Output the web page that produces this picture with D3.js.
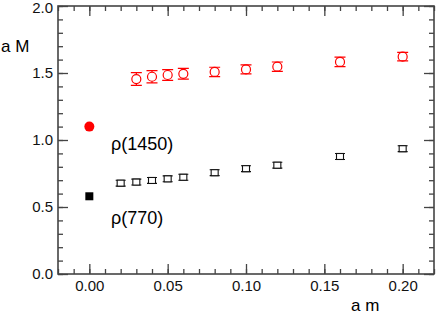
<!DOCTYPE html>
<html>
<head>
<meta charset="utf-8">
<script src="https://cdn.jsdelivr.net/npm/d3@7"></script>
<style>
  body { margin: 0; background: #fff; }
  text { font-family: "Liberation Sans", Arial, sans-serif; }
</style>
</head>
<body>
<svg id="chart"></svg>
<script>
// lattice data: a m vs a M
const amVals      = [0.03, 0.04, 0.05, 0.06, 0.08, 0.10, 0.12, 0.16, 0.20];
const rhoHeavy    = [1.455, 1.472, 1.485, 1.494, 1.508, 1.527, 1.547, 1.583, 1.622];
const rhoHeavyErr = [0.048, 0.045, 0.040, 0.040, 0.035, 0.033, 0.035, 0.035, 0.032];
const amValsB     = [0.02, 0.03, 0.04, 0.05, 0.06, 0.08, 0.10, 0.12, 0.16, 0.20];
const rhoLight    = [0.678, 0.686, 0.698, 0.710, 0.722, 0.756, 0.786, 0.812, 0.877, 0.935];
const rhoLightErr = [0.022, 0.022, 0.022, 0.022, 0.022, 0.022, 0.022, 0.022, 0.022, 0.022];
const physNames   = ["ρ(1450)", "ρ(770)"];
const physVals    = [1.10, 0.58];
const xMajor      = [0.00, 0.05, 0.10, 0.15, 0.20];
const yMajor      = [0.0, 0.5, 1.0, 1.5, 2.0];

let width   = 436,
    height  = 314,
    pLeft   = 58,
    pRight  = 434,
    pTop    = 6,
    pBottom = 274,
    xScale  = d3.scaleLinear().domain([-0.02, 0.22]).range([pLeft, pRight]),
    yScale  = d3.scaleLinear().domain([0, 2]).range([pBottom, pTop]),
    svg     = d3.select('#chart').attr('width', width).attr('height', height),
    axisColor = '#444';

let xMinor = d3.range(-0.02, 0.2201, 0.01).map(v => +v.toFixed(2)),
    yMinor = d3.range(0, 2.001, 0.1).map(v => +v.toFixed(1));

function drawAxis(axisFn, scale, major, minor, transform, labels, pad) {
    let g = svg.append('g').attr('transform', transform);
    g.call(axisFn(scale).tickValues(minor).tickSize(-5).tickFormat(''));
    let g2 = svg.append('g').attr('transform', transform);
    g2.call(axisFn(scale).tickValues(major).tickSize(-10).tickPadding(pad || 0)
        .tickFormat(labels ? labels : ''));
    [g, g2].forEach(a => {
        a.select('.domain').remove();
        a.selectAll('line').attr('stroke', axisColor).attr('stroke-width', 1.3);
        a.selectAll('text').attr('font-size', 15).attr('fill', '#111')
            .style('font-family', '"Liberation Sans", Arial, sans-serif');
    });
    return g2;
}

drawAxis(d3.axisBottom, xScale, xMajor, xMinor, `translate(0,${pBottom})`, d3.format('.2f'), 6);
drawAxis(d3.axisTop, xScale, xMajor, xMinor, `translate(0,${pTop})`, null);
drawAxis(d3.axisLeft, yScale, yMajor, yMinor, `translate(${pLeft},0)`, d3.format('.1f'), 5)
    .selectAll('text').filter(d => d == 2).attr('dy', '0.38em').attr('y', 1);
drawAxis(d3.axisRight, yScale, yMajor, yMinor, `translate(${pRight},0)`, null);

// frame
svg.append('rect')
    .attr('x', pLeft).attr('y', pTop)
    .attr('width', pRight - pLeft).attr('height', pBottom - pTop)
    .attr('fill', 'none').attr('stroke', axisColor).attr('stroke-width', 1.6);

// axis titles
svg.append('text').attr('x', 1).attr('y', 52).attr('font-size', 17).text('a M');
svg.append('text').attr('x', 351).attr('y', 311).attr('font-size', 17).text('a m');

// heavy rho: open red circles with error bars
let heavy = amVals.map((d, i) => ({x: d, y: rhoHeavy[i], e: rhoHeavyErr[i]}));
let hg = svg.append('g').attr('stroke', '#f00').attr('fill', 'none').attr('stroke-width', 1.2);
hg.selectAll('.ebar').data(heavy).enter().append('path')
    .attr('d', d => {
        let x = xScale(d.x), y1 = yScale(d.y - d.e), y2 = yScale(d.y + d.e);
        return `M${x},${y1}V${yScale(d.y) + 4.5}M${x},${yScale(d.y) - 4.5}V${y2}` +
               `M${x - 5.5},${y1}H${x + 5.5}M${x - 5.5},${y2}H${x + 5.5}`;
    });
hg.selectAll('circle').data(heavy).enter().append('circle')
    .attr('cx', d => xScale(d.x)).attr('cy', d => yScale(d.y)).attr('r', 4.5);

// light rho: open black squares with error bars
let light = amValsB.map((d, i) => ({x: d, y: rhoLight[i], e: rhoLightErr[i]}));
let lg = svg.append('g').attr('stroke', '#111').attr('fill', 'none').attr('stroke-width', 1.1);
lg.selectAll('.ebar').data(light).enter().append('path')
    .attr('d', d => {
        let x = xScale(d.x), y1 = yScale(d.y - d.e), y2 = yScale(d.y + d.e);
        return `M${x - 5},${y1}H${x + 5}M${x - 5},${y2}H${x + 5}`;
    });
lg.selectAll('rect').data(light).enter().append('rect')
    .attr('x', d => xScale(d.x) - 3.5).attr('y', d => yScale(d.y) - 3)
    .attr('width', 7).attr('height', 6).attr('fill', '#fff');

// physical values at a m = 0
svg.append('circle').attr('cx', xScale(0)).attr('cy', yScale(physVals[0])).attr('r', 5).attr('fill', '#f00');
svg.append('rect').attr('x', xScale(0) - 4).attr('y', yScale(physVals[1]) - 4)
    .attr('width', 8).attr('height', 8).attr('fill', '#000');

svg.selectAll('.plabel').data(physNames).enter().append('text')
    .attr('x', 111)
    .attr('y', (d, i) => i == 0 ? 150 : 224)
    .attr('font-size', 18)
    .text(d => d);
</script>
</body>
</html>
